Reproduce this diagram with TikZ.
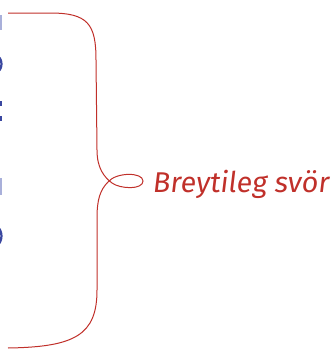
\documentclass[tikz,border=0pt]{standalone}
\usepackage{fontspec}
\newfontfamily\labelfont[FakeSlant=0.12]{Fira Sans}
\definecolor{bracered}{HTML}{C0302A}
\definecolor{fragblue}{HTML}{3A47A0}
\definecolor{fragblueL}{HTML}{A9B0DA}
\begin{document}
\begin{tikzpicture}[x=1pt,y=-1pt,
  brace/.style={draw=bracered,line width=1pt},
  frag/.style={fragblue,line width=2.2pt},
  lbl/.style={text=bracered,font=\labelfont\fontsize{28.6}{31}\selectfont,anchor=base west,inner sep=0pt}]
\useasboundingbox (0,0) rectangle (335,351);
% cropped blue fragments at left edge
\fill[fragblueL] (-1,15) rectangle (1.6,30);
\draw[frag] (-4,64) ellipse [x radius=5.5, y radius=8];
\fill[fragblue] (-1,101) rectangle (1.8,106);
\fill[fragblue] (-1,116) rectangle (1.8,121);
\fill[fragblueL] (-1,178) rectangle (1.6,195);
\draw[frag] (-4,236) ellipse [x radius=5.5, y radius=9];
% brace
\coordinate (top) at (8,13);
\coordinate (bot) at (8,348);
\coordinate (tip) at (143,181);
\draw[brace] (top) -- (50,13)
  .. controls (88,13) and (96,24) .. (96,60)
  -- (97,150)
  .. controls (97,168) and (104,177) .. (112,183)
  .. controls (120,189) and (143,190) .. (tip)
  .. controls (143,172) and (116,172) .. (108,182)
  .. controls (100,190) and (97,200) .. (97,218)
  -- (97,290)
  .. controls (97,335) and (75,347) .. (bot);
\node[lbl] (label) at (152,192) {Breytileg svör};
\end{tikzpicture}
\end{document}
